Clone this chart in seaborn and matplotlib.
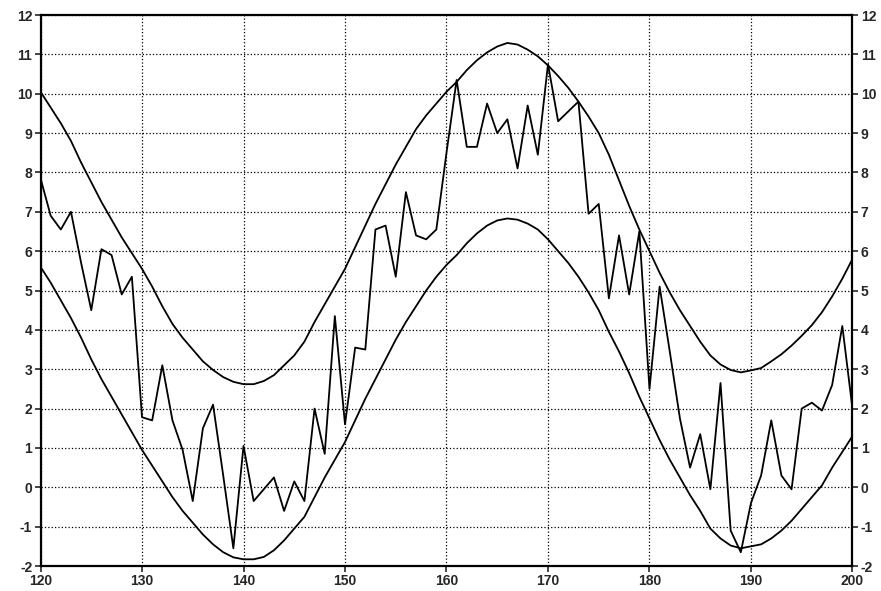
import matplotlib
matplotlib.use("Agg")
import matplotlib.pyplot as plt
import seaborn as sns
import pandas as pd

# x positions (one sample per unit)
x_values = list(range(120, 201))

# jagged price-like series
series_values = [
    7.85, 6.9, 6.55, 7.0, 5.7, 4.5, 6.05, 5.9, 4.9, 5.35,
    1.78, 1.7, 3.1, 1.7, 0.95, -0.35, 1.5, 2.1, 0.3, -1.55,
    1.05, -0.35, -0.05, 0.25, -0.6, 0.15, -0.35, 2.0, 0.85, 4.35,
    1.6, 3.55, 3.5, 6.55, 6.65, 5.35, 7.5, 6.4, 6.3, 6.55,
    8.5, 10.35, 8.65, 8.65, 9.75, 9.0, 9.35, 8.1, 9.7, 8.45,
    10.75, 9.3, 9.55, 9.8, 6.95, 7.2, 4.8, 6.4, 4.9, 6.5,
    2.5, 5.1, 3.45, 1.75, 0.5, 1.35, -0.05, 2.65, -1.1, -1.65,
    -0.4, 0.3, 1.7, 0.3, -0.05, 2.0, 2.15, 1.95, 2.6, 4.1,
    2.0,
]

# upper envelope
upper_values = [
    10.05, 9.65, 9.25, 8.8, 8.25, 7.75, 7.25, 6.8, 6.35, 5.95,
    5.55, 5.1, 4.6, 4.15, 3.8, 3.5, 3.2, 2.98, 2.8, 2.68,
    2.62, 2.62, 2.7, 2.85, 3.1, 3.35, 3.7, 4.2, 4.65, 5.1,
    5.55, 6.1, 6.65, 7.2, 7.7, 8.2, 8.65, 9.1, 9.45, 9.75,
    10.05, 10.3, 10.6, 10.85, 11.05, 11.2, 11.29, 11.25, 11.12, 10.95,
    10.72, 10.45, 10.15, 9.8, 9.42, 9.0, 8.45, 7.8, 7.15, 6.55,
    6.0, 5.45, 4.95, 4.5, 4.1, 3.7, 3.35, 3.12, 2.98, 2.92,
    2.97, 3.03, 3.2, 3.38, 3.6, 3.85, 4.12, 4.45, 4.85, 5.3,
    5.8,
]

# lower envelope
lower_values = [
    5.6, 5.2, 4.75, 4.3, 3.8, 3.25, 2.75, 2.3, 1.85, 1.4,
    0.95, 0.55, 0.15, -0.25, -0.6, -0.9, -1.2, -1.45, -1.65, -1.78,
    -1.83, -1.83, -1.77, -1.6, -1.35, -1.05, -0.75, -0.25, 0.25, 0.7,
    1.15, 1.7, 2.25, 2.75, 3.25, 3.75, 4.2, 4.6, 5.0, 5.35,
    5.65, 5.9, 6.2, 6.45, 6.65, 6.78, 6.83, 6.8, 6.7, 6.55,
    6.3, 6.0, 5.7, 5.35, 4.95, 4.5, 3.95, 3.45, 2.9, 2.3,
    1.75, 1.2, 0.7, 0.25, -0.2, -0.6, -1.05, -1.3, -1.48, -1.55,
    -1.5, -1.45, -1.3, -1.1, -0.85, -0.55, -0.25, 0.05, 0.5, 0.9,
    1.3,
]

x_ticks = [120, 130, 140, 150, 160, 170, 180, 190, 200]
y_ticks = list(range(-2, 13))

df = pd.DataFrame({
    "x": x_values,
    "series": series_values,
    "upper": upper_values,
    "lower": lower_values,
})

sns.set_style("white")
plt.rcParams["font.family"] = ["Liberation Sans", "DejaVu Sans"]
plt.rcParams["axes.unicode_minus"] = False

fig = plt.figure(figsize=(8.81, 5.91), dpi=100)
ax = fig.add_axes([0.046, 0.0423, 0.9216, 0.9323])

for col in ["upper", "lower", "series"]:
    sns.lineplot(data=df, x="x", y=col, ax=ax, color="black",
                 linewidth=1.3, legend=False)

ax.set_xlim(120, 200)
ax.set_ylim(-2, 12)
ax.set_xticks(x_ticks)
ax.set_yticks(y_ticks)
ax.set_xlabel("")
ax.set_ylabel("")

ax.grid(True, color="black", linestyle=(0, (1, 1.7)), linewidth=0.9)
ax.set_axisbelow(True)

for side in ["left", "right", "top", "bottom"]:
    ax.spines[side].set_visible(True)
    ax.spines[side].set_color("black")
    ax.spines[side].set_linewidth(1.6)

ax.tick_params(axis="y", which="both", left=True, right=True,
               labelleft=True, labelright=True, direction="out",
               length=4, width=1.2, pad=2, labelsize=10)
ax.tick_params(axis="x", which="both", bottom=True, direction="out",
               length=4, width=1.2, pad=2, labelsize=10)
for lbl in ax.get_xticklabels() + ax.get_yticklabels():
    lbl.set_fontweight("bold")
for t in ax.yaxis.get_major_ticks():
    t.label2.set_fontweight("bold")

fig.savefig("out.png", dpi=100, facecolor="white")
